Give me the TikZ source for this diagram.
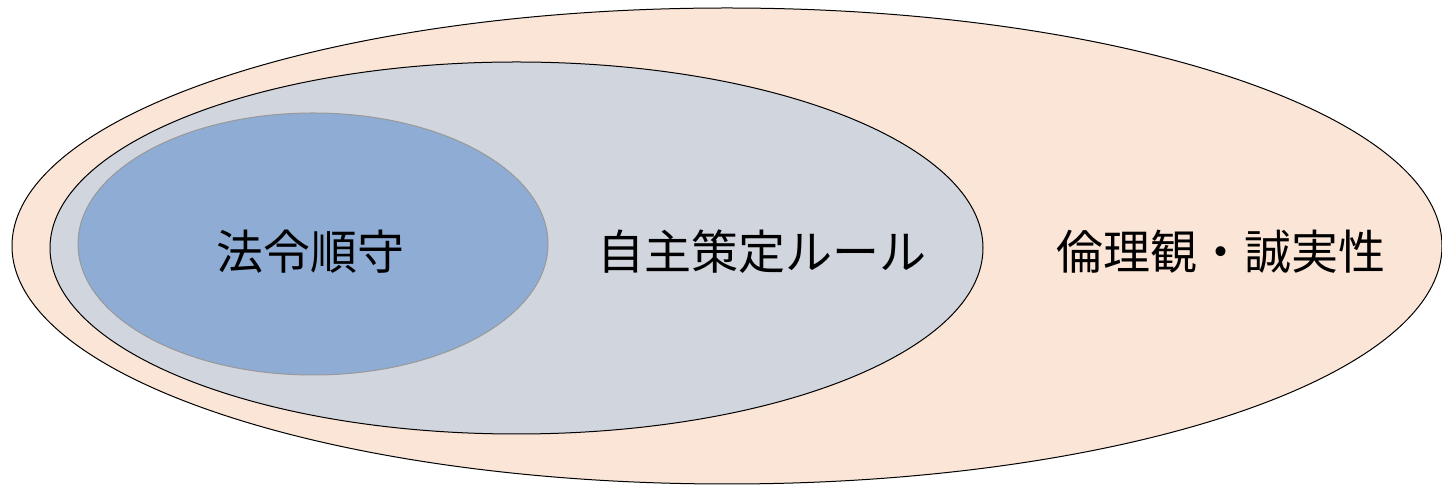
\documentclass[tikz,border=0pt]{standalone}
\usepackage{fontspec}
\newfontfamily\jpfont{Noto Sans CJK JP}
\usetikzlibrary{shapes.geometric}
\definecolor{ethicsfill}{HTML}{FBE5D6}
\definecolor{rulesfill}{HTML}{D1D5DE}
\definecolor{lawfill}{HTML}{8EACD4}
\tikzset{
    ring/.style={ellipse,draw,line width=0.5pt,inner sep=0pt},
    label/.style={font=\jpfont\fontsize{23.5pt}{28pt}\selectfont,inner sep=0pt}
}

\begin{document}
\begin{tikzpicture}[x=0.5pt,y=-0.5pt]
    \useasboundingbox (0,0) rectangle (1442,485);
    \node[ring,fill=ethicsfill,minimum width=715pt,minimum height=238pt] (ethics) at (727,246) {};
    \node[ring,fill=rulesfill,minimum width=466.5pt,minimum height=186pt] (rules) at (516.5,248) {};
    \node[ring,fill=lawfill,draw=gray!80,minimum width=235pt,minimum height=131pt] (law) at (313,244) {};
    \node[label] (lawtext) at (310,252) {法令順守};
    \node[label] (rulestext) at (762,252) {自主策定ルール};
    \node[label] (ethicstext) at (1221,252) {倫理観・誠実性};
\end{tikzpicture}
\end{document}
